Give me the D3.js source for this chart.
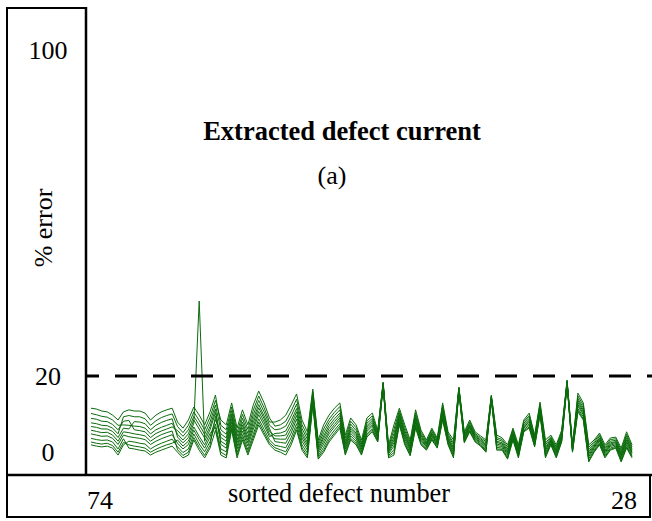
<!DOCTYPE html>
<html>
<head>
<meta charset="utf-8">
<script src="https://cdn.jsdelivr.net/npm/d3@7/dist/d3.min.js"></script>
<style>
  html, body { margin: 0; padding: 0; background: #fff; }
  svg { display: block; }
  text { font-family: "Liberation Serif", "Times New Roman", serif; fill: #000; }
</style>
</head>
<body>
<svg id="chart" width="652" height="521"></svg>
<script>
// ---------- data ----------
const titleText = "Extracted defect current";
const subtitleText = "(a)";
const yLabelText = "% error";
const xLabelText = "sorted defect number";
const xTickLabels = ["74", "28"];          // first and last sorted defect
const yTickValues = [0, 20, 100];
const thresholdValue = 20;

const s0 = [12.1, 11.9, 11.4, 11.2, 10.4, 9.2, 11.2, 11.7, 11.4, 11.4,
 10.9, 9.2, 10.4, 11.2, 11.7, 12.1, 8.7, 7.2, 9.2, 12.4,
 10.4, 8.0, 11.2, 15.3, 7.9, 6.8, 12.4, 6.1, 10.6, 6.9,
 11.6, 15.1, 12.2, 8.7, 8.7, 9.2, 10.4, 12.9, 15.6, 9.2,
 6.3, 16.8, 4.3, 8.0, 10.4, 12.1, 13.4, 5.5, 9.7, 8.0,
 4.3, 9.7, 10.9, 6.7, 18.5, 3.1, 8.0, 12.1, 8.0, 4.3,
 11.7, 6.7, 4.3, 7.2, 4.8, 13.4, 6.3, 4.3, 17.3, 6.3,
 9.2, 6.3, 5.3, 4.3, 15.3, 5.5, 4.8, 3.1, 7.2, 3.1,
 9.2, 10.9, 5.5, 13.6, 4.3, 5.5, 3.1, 6.7, 19.0, 3.1,
 15.8, 13.4, 3.1, 4.3, 6.0, 3.1, 4.8, 5.0, 2.3, 6.3, 3.1];
const s1 = [8.5, 8.3, 7.9, 7.8, 7.2, 5.8, 10.0, 10.3, 10.0, 10.0,
 9.5, 7.9, 9.0, 9.8, 10.3, 10.7, 7.6, 6.1, 7.9, 11.2,
 9.1, 6.8, 9.9, 14.0, 9.2, 8.0, 13.4, 7.2, 11.7, 8.0,
 12.9, 16.3, 13.4, 9.7, 7.7, 8.0, 8.9, 11.4, 14.3, 8.1,
 5.3, 16.2, 3.6, 7.0, 9.4, 11.1, 12.5, 4.8, 8.9, 7.3,
 3.7, 9.0, 10.2, 6.3, 18.4, 2.6, 6.9, 11.5, 7.3, 3.7,
 11.0, 6.2, 3.9, 6.8, 4.4, 12.8, 5.8, 3.6, 17.1, 5.9,
 8.8, 5.9, 4.9, 3.9, 15.1, 4.9, 4.4, 2.6, 6.8, 2.6,
 8.8, 10.3, 5.1, 13.1, 3.6, 5.1, 2.6, 6.3, 18.8, 2.8,
 15.1, 12.8, 2.5, 3.9, 5.6, 2.6, 4.4, 4.6, 1.8, 5.7, 2.6];
const s2 = [9.6, 9.4, 8.9, 8.8, 8.1, 6.8, 8.9, 9.1, 6.8, 6.6,
 6.3, 4.9, 5.9, 6.5, 7.0, 7.5, 6.6, 5.2, 6.8, 10.1,
 8.0, 5.7, 8.7, 12.9, 6.8, 5.7, 11.5, 5.2, 9.6, 5.9,
 10.5, 14.0, 11.2, 7.9, 6.8, 7.0, 7.7, 10.2, 13.1, 7.1,
 4.5, 15.7, 3.0, 6.1, 8.6, 10.3, 11.7, 4.1, 8.2, 6.6,
 3.3, 8.4, 9.6, 5.9, 18.2, 2.2, 5.9, 11.0, 6.6, 3.2,
 10.4, 5.7, 3.6, 6.4, 4.1, 12.2, 5.4, 3.1, 17.0, 5.5,
 8.4, 5.6, 4.6, 3.5, 15.0, 4.5, 4.0, 2.1, 6.4, 2.2,
 8.4, 9.9, 4.7, 12.7, 3.1, 4.8, 2.2, 5.9, 18.7, 2.6,
 14.5, 12.2, 1.9, 3.5, 5.2, 2.2, 4.0, 4.2, 1.3, 5.2, 2.2];
const s3 = [10.8, 10.5, 10.1, 9.9, 9.2, 7.9, 8.0, 7.9, 7.7, 7.6,
 7.2, 5.8, 6.8, 7.4, 7.9, 8.4, 5.7, 4.3, 5.8, 9.2,
 7.0, 4.8, 7.6, 11.9, 3.2, 2.3, 8.7, 2.1, 6.5, 2.8,
 6.9, 10.5, 7.9, 5.1, 5.9, 6.0, 6.5, 9.0, 12.0, 6.2,
 3.7, 15.2, 2.4, 5.3, 7.8, 9.5, 10.9, 3.5, 7.5, 6.0,
 2.8, 7.8, 9.1, 5.5, 18.1, 1.8, 5.0, 10.5, 6.0, 2.7,
 9.9, 5.3, 3.3, 6.0, 3.8, 11.7, 5.0, 2.5, 16.8, 5.2,
 8.0, 5.3, 4.3, 3.1, 14.8, 4.0, 3.6, 1.7, 6.0, 1.8,
 8.0, 9.4, 4.3, 12.3, 2.5, 4.5, 1.8, 5.5, 18.5, 2.4,
 14.0, 11.7, 1.4, 3.1, 4.8, 1.8, 3.6, 3.9, 0.9, 4.7, 1.8];
const s4 = [7.6, 7.4, 7.0, 7.0, 6.4, 4.9, 7.2, 7.0, 8.8, 8.7,
 8.3, 6.8, 7.9, 8.6, 9.1, 9.5, 5.0, 3.6, 4.9, 8.4,
 38.4, 4.0, 6.8, 11.0, 4.9, 4.0, 10.1, 3.6, 8.0, 4.3,
 8.6, 12.2, 9.5, 6.4, 5.3, 5.3, 5.5, 8.0, 11.2, 5.5,
 3.1, 14.9, 2.0, 4.7, 7.1, 8.8, 10.3, 3.1, 7.0, 5.6,
 2.5, 7.4, 8.6, 5.3, 18.0, 1.5, 4.3, 10.1, 5.6, 2.4,
 9.5, 4.9, 3.1, 5.8, 3.6, 11.3, 4.7, 2.1, 16.7, 5.0,
 7.8, 5.1, 4.1, 2.8, 14.7, 3.7, 3.3, 1.4, 5.8, 1.5,
 7.8, 9.1, 4.1, 12.0, 2.1, 4.3, 1.5, 5.3, 18.4, 2.2,
 13.5, 11.3, 1.0, 2.8, 4.6, 1.5, 3.3, 3.7, 0.6, 4.3, 1.5];
const s5 = [6.7, 6.4, 6.1, 6.2, 5.5, 4.0, 6.3, 6.1, 5.8, 5.6,
 5.3, 4.0, 4.9, 5.6, 6.1, 6.5, 1.9, 0.5, 1.3, 4.9,
 2.5, 0.5, 3.0, 10.1, 4.0, 3.1, 9.4, 2.8, 7.3, 3.6,
 7.7, 11.3, 8.7, 5.7, 4.6, 4.5, 4.5, 7.0, 10.3, 4.8,
 2.5, 14.5, 1.5, 4.0, 6.4, 8.1, 9.7, 2.6, 6.5, 5.1,
 2.1, 6.9, 8.1, 5.0, 17.9, 1.2, 3.6, 9.6, 5.1, 2.0,
 9.0, 4.5, 2.8, 5.5, 3.3, 10.9, 4.4, 1.7, 16.6, 4.7,
 7.5, 4.8, 3.8, 2.5, 14.6, 3.3, 3.0, 1.0, 5.5, 1.2,
 7.5, 8.7, 3.8, 11.7, 1.7, 4.1, 1.2, 5.0, 18.3, 2.0,
 13.0, 10.9, 0.6, 2.5, 4.3, 1.2, 3.0, 3.4, 0.3, 3.9, 1.2];
const s6 = [5.8, 5.5, 5.2, 5.3, 4.7, 3.2, 5.5, 5.1, 4.9, 4.7,
 4.4, 3.2, 4.0, 4.6, 5.1, 5.6, 3.5, 2.1, 3.2, 6.7,
 4.4, 2.3, 5.0, 9.3, 5.8, 4.8, 10.7, 4.3, 8.7, 5.0,
 9.5, 13.0, 10.2, 7.1, 3.9, 3.7, 3.5, 6.0, 9.4, 4.0,
 1.8, 14.1, 1.0, 3.3, 5.8, 7.5, 9.1, 2.1, 5.9, 4.6,
 1.7, 6.4, 7.7, 4.7, 17.8, 0.9, 2.8, 9.2, 4.6, 1.6,
 8.6, 4.2, 2.6, 5.2, 3.1, 10.5, 4.1, 1.2, 16.5, 4.4,
 7.2, 4.6, 3.6, 2.2, 14.5, 2.9, 2.7, 0.7, 5.2, 0.9,
 7.2, 8.3, 3.5, 11.4, 1.2, 3.8, 0.9, 4.7, 18.2, 1.8,
 12.6, 10.5, 0.2, 2.2, 4.0, 0.9, 2.7, 3.1, -0.1, 3.5, 0.9];
const s7 = [3.1, 2.8, 2.6, 2.8, 2.3, 0.6, 3.1, 4.0, 3.8, 3.5,
 3.3, 2.1, 2.9, 3.5, 4.0, 4.5, 2.6, 1.2, 2.1, 5.8,
 3.3, 1.4, 3.9, 8.2, 2.1, 1.4, 7.9, 1.2, 5.6, 1.9,
 5.8, 9.5, 6.9, 4.3, 3.0, 2.7, 2.4, 4.9, 8.3, 3.1,
 1.1, 13.6, 0.4, 2.5, 5.0, 6.7, 8.3, 1.5, 5.3, 4.0,
 1.3, 5.8, 7.1, 4.3, 17.7, 0.5, 1.9, 8.7, 4.0, 1.1,
 8.0, 3.7, 2.3, 4.8, 2.8, 10.0, 3.7, 0.7, 16.3, 4.1,
 6.8, 4.3, 3.3, 1.8, 14.3, 2.5, 2.3, 0.2, 4.8, 0.5,
 6.8, 7.9, 3.1, 11.0, 0.7, 3.5, 0.5, 4.3, 18.0, 1.6,
 12.0, 10.0, -0.3, 1.8, 3.6, 0.5, 2.3, 2.8, -0.5, 3.0, 0.5];
const s8 = [3.8, 3.5, 3.3, 3.5, 2.9, 1.3, 3.7, 3.1, 2.8, 2.6,
 2.3, 1.3, 2.0, 2.6, 3.1, 3.5, 4.3, 2.8, 4.0, 7.5,
 5.2, 3.1, 5.9, 7.4, 1.3, 0.5, 7.2, 0.5, 4.9, 1.2,
 5.0, 8.7, 6.1, 3.6, 2.4, 1.9, 1.4, 3.9, 7.4, 2.4,
 0.4, 13.2, 0.0, 1.8, 4.3, 6.0, 7.7, 1.0, 4.7, 3.5,
 0.9, 5.4, 6.7, 4.0, 17.6, 0.2, 1.2, 8.3, 3.5, 0.7,
 7.6, 3.4, 2.0, 4.5, 2.5, 9.5, 3.4, 0.3, 16.2, 3.8,
 6.5, 4.0, 3.0, 1.5, 14.2, 2.1, 2.0, -0.1, 4.5, 0.2,
 6.5, 7.5, 2.8, 10.7, 0.3, 3.3, 0.2, 4.0, 17.9, 1.4,
 11.6, 9.5, -0.8, 1.5, 3.3, 0.2, 2.0, 2.5, -0.8, 2.6, 0.2];
const s9 = [4.7, 4.4, 4.2, 4.3, 3.8, 2.1, 4.6, 2.3, 2.1, 1.8,
 1.6, 0.6, 1.3, 1.8, 2.3, 2.8, 1.3, -0.1, 0.6, 4.3,
 1.8, -0.1, 2.3, 6.7, 0.6, -0.1, 6.7, -0.1, 4.3, 0.6,
 4.3, 8.0, 5.5, 3.1, 1.8, 1.3, 0.6, 3.1, 6.7, 1.8,
 -0.1, 12.9, -0.4, 1.3, 3.8, 5.5, 7.2, 0.6, 4.3, 3.1,
 0.6, 5.0, 6.3, 3.8, 17.5, -0.1, 0.6, 8.0, 3.1, 0.4,
 7.2, 3.1, 1.8, 4.3, 2.3, 9.2, 3.1, -0.1, 16.1, 3.6,
 6.3, 3.8, 2.8, 1.3, 14.1, 1.8, 1.8, -0.4, 4.3, -0.1,
 6.3, 7.2, 2.6, 10.4, -0.1, 3.1, -0.1, 3.8, 17.8, 1.3,
 11.2, 9.2, -1.1, 1.3, 3.1, -0.1, 1.8, 2.3, -1.1, 2.3, -0.1];

const seriesList = [s0, s1, s2, s3, s4, s5, s6, s7, s8, s9];

// ---------- drawing ----------
const svg = d3.select("#chart");
svg.append("rect").attr("width", 652).attr("height", 521).attr("fill", "#fff");

const frameLeft = 7, panelRight = 86, frameTop = 8, plotBottom = 475, frameBottom = 517, frameRight = 650;

const n = s0.length;
const x = d3.scaleLinear().domain([0, n - 1]).range([91, 632]);
const y = d3.scaleLinear().domain([0, 100]).range([457.5, 50]);

// green series lines
const line = d3.line().x((d, i) => x(i)).y(d => y(d));
svg.append("g").selectAll("path").data(seriesList).join("path")
  .attr("d", line)
  .attr("fill", "none")
  .attr("stroke", "#0b6b0b")
  .attr("stroke-width", 1)
  .attr("stroke-linejoin", "miter");

// dashed threshold
svg.append("line")
  .attr("x1", panelRight).attr("x2", 652)
  .attr("y1", y(thresholdValue)).attr("y2", y(thresholdValue))
  .attr("stroke", "#000").attr("stroke-width", 3)
  .attr("stroke-dasharray", "22,16").attr("stroke-dashoffset", 9);

// frame lines
const fr = svg.append("g").attr("stroke", "#000").attr("fill", "none");
fr.append("path").attr("stroke-width", 2)
  .attr("d", `M${panelRight},${frameTop}H${frameLeft}V${frameBottom}H${frameRight}V${plotBottom}`);
fr.append("line").attr("stroke-width", 2.5)
  .attr("x1", panelRight).attr("x2", panelRight).attr("y1", frameTop - 1).attr("y2", plotBottom);
fr.append("line").attr("stroke-width", 2.5)
  .attr("x1", frameLeft).attr("x2", 652).attr("y1", plotBottom).attr("y2", plotBottom);

// y tick labels (in left panel)
svg.append("g").selectAll("text").data(yTickValues).join("text")
  .attr("x", 48)
  .attr("y", d => Math.min(y(d), 452) + 8.5)
  .attr("text-anchor", "middle")
  .style("font-size", "26px")
  .text(d => d);

// y label
svg.append("text")
  .attr("transform", "translate(52,228) rotate(-90)")
  .attr("text-anchor", "middle")
  .style("font-size", "26px")
  .text(yLabelText);

// x tick labels
svg.append("text").attr("x", x(0) - 4).attr("y", 509)
  .attr("text-anchor", "start").style("font-size", "26px").text(xTickLabels[0]);
svg.append("text").attr("x", x(n - 1) + 5).attr("y", 509)
  .attr("text-anchor", "end").style("font-size", "26px").text(xTickLabels[1]);

// x label
svg.append("text").attr("x", 339).attr("y", 502)
  .attr("text-anchor", "middle").style("font-size", "26.3px").text(xLabelText);

// title and subtitle
svg.append("text").attr("x", 342).attr("y", 140)
  .attr("text-anchor", "middle").style("font-size", "26.5px").style("font-weight", "bold")
  .text(titleText);
svg.append("text").attr("x", 332).attr("y", 184)
  .attr("text-anchor", "middle").style("font-size", "26px")
  .text(subtitleText);
</script>
</body>
</html>
